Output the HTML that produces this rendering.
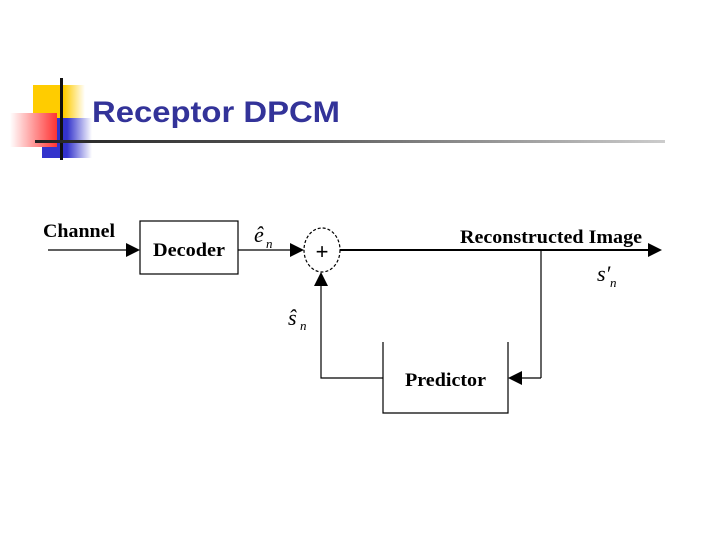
<!DOCTYPE html><html><head><style>body{margin:0;width:720px;height:540px;background:#fff;overflow:hidden;position:relative;font-family:"Liberation Sans",sans-serif}
div{position:absolute}</style></head><body>
<div style="left:33px;top:85px;width:52px;height:40px;background:linear-gradient(90deg,#fc0 60%,#fff)"></div>
<div style="left:42px;top:118px;width:50px;height:40px;background:linear-gradient(90deg,#33c 50%,#fff)"></div>
<div style="left:10px;top:113px;width:47px;height:34px;background:linear-gradient(90deg,#fff,#f33)"></div>
<div style="left:60px;top:78px;width:3px;height:82px;background:#111"></div>
<div style="left:35px;top:140px;width:630px;height:3px;background:linear-gradient(90deg,#222,#555 40%,#ccc)"></div>
<svg width="720" height="540" style="position:absolute;left:0;top:0" font-family="Liberation Serif" font-weight="bold">
<text x="92" y="122" font-family="Liberation Sans" font-size="30" fill="#333399" textLength="248" lengthAdjust="spacingAndGlyphs">Receptor DPCM</text>
<g stroke="#000" fill="none" stroke-width="1.2">
<line x1="48" y1="250" x2="132" y2="250"/>
<rect x="140" y="221" width="98" height="53"/>
<line x1="238" y1="250" x2="298" y2="250"/>
<ellipse cx="322" cy="250" rx="18" ry="22" stroke-dasharray="3,2"/>
<line x1="340" y1="250" x2="650" y2="250" stroke-width="2"/>
<line x1="541" y1="250" x2="541" y2="378"/>
<line x1="541" y1="378" x2="520" y2="378"/>
<polyline points="383,342 383,413 508,413 508,342"/>
<polyline points="383,378 321,378 321,282"/>
</g>
<g fill="#000">
<polygon points="140,250 126,243 126,257"/>
<polygon points="304,250 290,243 290,257"/>
<polygon points="662,250 648,243 648,257"/>
<polygon points="508,378 522,371 522,385"/>
<polygon points="321,272 314,286 328,286"/>
</g>
<text x="43" y="237" font-size="19" textLength="72" lengthAdjust="spacingAndGlyphs">Channel</text>
<text x="153" y="256" font-size="19" textLength="72" lengthAdjust="spacingAndGlyphs">Decoder</text>
<text x="322" y="259" font-size="22" font-weight="normal" text-anchor="middle" font-family="Liberation Sans">+</text>
<text x="460" y="243" font-size="19" textLength="182" lengthAdjust="spacingAndGlyphs">Reconstructed Image</text>
<text x="405" y="386" font-size="19" textLength="81" lengthAdjust="spacingAndGlyphs">Predictor</text>
<g font-style="italic" font-weight="normal">
<text x="254" y="242" font-size="22">ê</text><text x="266" y="248" font-size="13">n</text>
<text x="288" y="325" font-size="22">ŝ</text><text x="300" y="330" font-size="13">n</text>
<text x="597" y="281" font-size="22">s′</text><text x="610" y="287" font-size="13">n</text>
</g>
</svg>
</body></html>
